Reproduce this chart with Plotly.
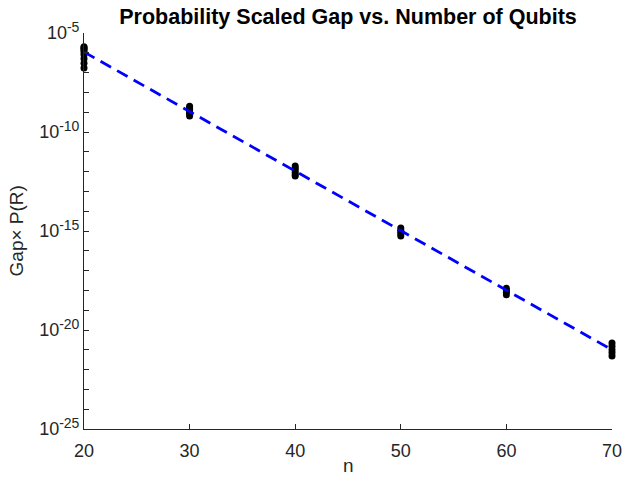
import plotly.graph_objects as go

# Data
n_values = [20]*9 + [30]*6 + [40]*6 + [50]*5 + [60]*4 + [70]*5
gap_values = [2.0e-6, 1.8e-6, 1.6e-6, 1.4e-6, 1.1e-6, 8e-7, 5e-7, 3e-7, 1.7e-7,
              2.0e-9, 1.6e-9, 1.3e-9, 1.0e-9, 8e-10, 6.5e-10,
              1.9e-12, 1.5e-12, 1.2e-12, 9e-13, 7e-13, 6e-13,
              1.4e-15, 1.1e-15, 9e-16, 7e-16, 5.6e-16,
              1.3e-18, 1.0e-18, 8e-19, 6e-19,
              2.2e-21, 1.5e-21, 1.0e-21, 7e-22, 4.9e-22]
fit_n = [20, 70]
fit_gap = [1.1e-6, 1.0e-21]

x_ticks = [20, 30, 40, 50, 60, 70]
y_exponents = list(range(-25, -4))

font = "Liberation Sans, Arial, Helvetica, sans-serif"
axcol = "#262626"

fig = go.Figure()
fig.add_trace(go.Scatter(x=n_values, y=gap_values, mode="markers",
                         marker=dict(color="black", size=7),
                         cliponaxis=False, showlegend=False))
fig.add_trace(go.Scatter(x=fit_n, y=fit_gap, mode="lines",
                         line=dict(color="#0000ff", width=2.8, dash="12px,7px"),
                         cliponaxis=False, showlegend=False))

ytickvals = [10.0**e for e in y_exponents]
yticktext = [f"10<sup><span style='font-size:14px'>{e}</span></sup>" if e % 5 == 0 else ""
             for e in y_exponents]

fig.update_layout(
    width=623, height=483,
    margin=dict(l=84, r=11, t=33, b=54),
    paper_bgcolor="white", plot_bgcolor="white",
    font=dict(family=font, size=18, color=axcol),
    title=dict(text="<b>Probability Scaled Gap vs. Number of Qubits</b>",
               x=0.5586, xanchor="center", y=0.965, yanchor="middle",
               font=dict(size=21.5, color="black")),
    xaxis=dict(range=[20, 70], tickvals=x_ticks, ticks="inside", ticklen=5,
               showline=True, linecolor=axcol, linewidth=1, showgrid=False,
               zeroline=False, tickcolor=axcol, automargin=False,
               ticklabelstandoff=5, tickfont=dict(size=18)),
    yaxis=dict(type="log", range=[-25, -5], tickvals=ytickvals, ticktext=yticktext,
               ticks="inside", ticklen=5, showline=True, linecolor=axcol, linewidth=1,
               showgrid=False, zeroline=False, tickcolor=axcol, automargin=False,
               tickfont=dict(size=18)),
    annotations=[
        dict(text="n", xref="paper", yref="paper", x=0.5, y=-0.0934,
             xanchor="center", yanchor="middle", showarrow=False,
             font=dict(size=19, color=axcol)),
        dict(text="Gap\u00d7 P(R)", xref="paper", yref="paper",
             x=-0.128, xanchor="center", y=0.5, yanchor="middle",
             textangle=-90, showarrow=False, font=dict(size=19, color=axcol)),
    ],
)
fig.write_html("out.html")
